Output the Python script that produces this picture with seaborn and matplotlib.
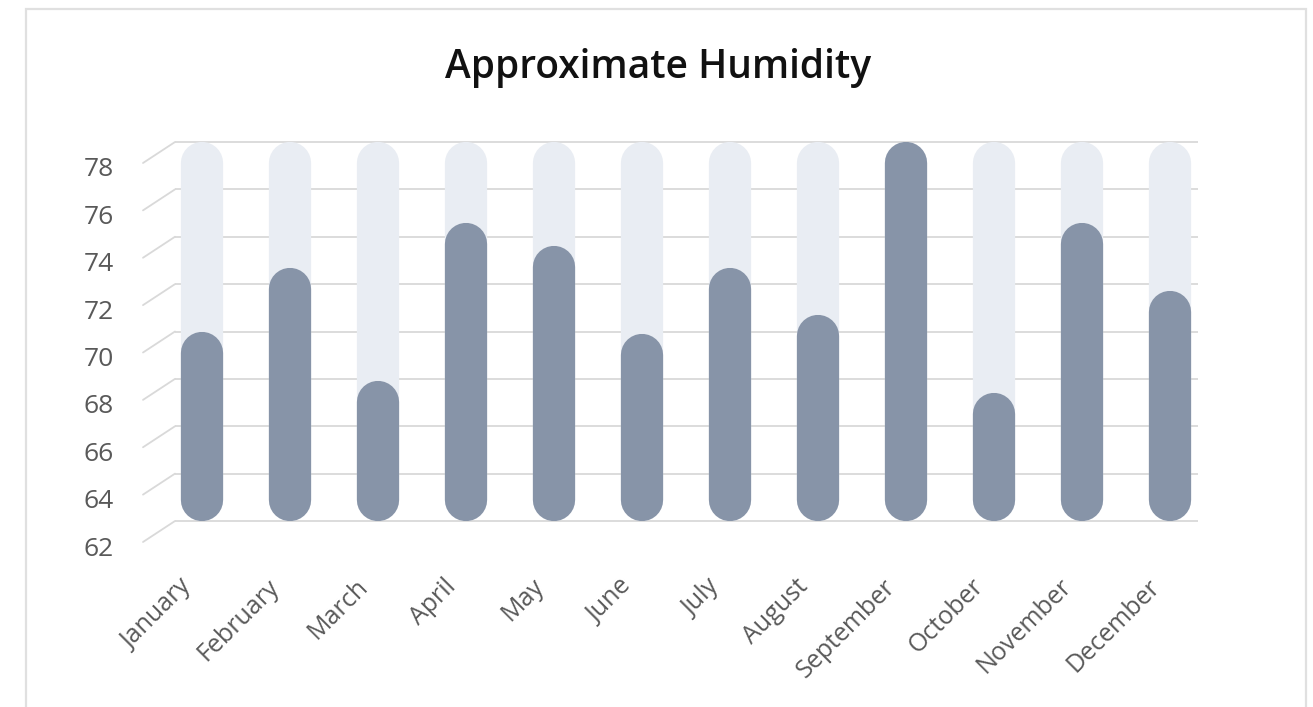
import matplotlib
matplotlib.use("Agg")
import matplotlib.pyplot as plt
import pandas as pd
import seaborn as sns
from matplotlib.patches import Rectangle

# Monthly humidity readings and the full-scale track drawn behind each bar
months = ["January", "February", "March", "April", "May", "June",
          "July", "August", "September", "October", "November", "December"]
humidity = [70.0, 72.7, 67.9, 74.6, 73.6, 69.9, 72.7, 70.7, 78.0, 67.4, 74.6, 71.7]
track_top = [78] * 12
y_ticks = [62, 64, 66, 68, 70, 72, 74, 76, 78]

BAR_COLOR = "#8794A8"
TRACK_COLOR = "#E9EDF3"
GRID_COLOR = "#D9D9D9"
TEXT_GRAY = "#595959"

sns.set_theme(style="white")
plt.rcParams["font.family"] = ["Open Sans", "DejaVu Sans"]

W, H = 1313, 707
fig = plt.figure(figsize=(W / 100, H / 100), dpi=100)
fig.patch.set_facecolor("white")
ax = fig.add_axes([175 / W, 186 / H, 1023 / W, 379 / H])

df = pd.DataFrame({"month": months, "humidity": humidity, "track": track_top})
sns.barplot(data=df, x="month", y="track", color=TRACK_COLOR, width=0.48,
            saturation=1, errorbar=None, ax=ax)
sns.barplot(data=df, x="month", y="humidity", color=BAR_COLOR, width=0.48,
            saturation=1, errorbar=None, ax=ax)

ax.set_xlim(-0.307, 11.318)
ax.set_ylim(y_ticks[0], y_ticks[-1])
ax.set_xlabel("")
ax.set_ylabel("")
ax.tick_params(length=0, labelleft=False, labelbottom=False)
for s in ax.spines.values():
    s.set_visible(False)

# Redraw each bar as a capsule: a thick line with round caps spanning the bar
bb = ax.get_window_extent()
x0, x1 = ax.get_xlim()
y0, y1 = ax.get_ylim()
px_x = bb.width / (x1 - x0)
px_y = bb.height / (y1 - y0)
for i, p in enumerate(list(ax.patches)):
    xc = p.get_x() + p.get_width() / 2
    top = p.get_height()
    fc = p.get_facecolor()
    width_px = p.get_width() * px_x
    r = (width_px / 2) / px_y
    p.remove()
    ax.plot([xc, xc], [y0 + r, top - r], color=fc, lw=width_px * 0.72,
            solid_capstyle="round", zorder=2 + (i >= 12), clip_on=False)

# Back-wall gridlines with the receding wall edge on the left
ax.hlines(y_ticks, x0, x1, color=GRID_COLOR, lw=1.3, zorder=0, clip_on=False)
k = 0.72  # pixels -> points at 100 dpi
blend = ax.get_yaxis_transform()
for t in y_ticks:
    ax.annotate("", xy=(0, t), xycoords=blend,
                xytext=(-32 * k, -21 * k), textcoords="offset points",
                arrowprops=dict(arrowstyle="-", color=GRID_COLOR, lw=1.3,
                                shrinkA=0, shrinkB=0))
    ax.annotate(str(t), xy=(0, t), xycoords=blend,
                xytext=(-61 * k, -28 * k), textcoords="offset points",
                ha="right", va="center", fontsize=19, color=TEXT_GRAY)

xblend = ax.get_xaxis_transform()
for i, m in enumerate(months):
    ax.annotate(m, xy=(i, 0), xycoords=xblend,
                xytext=(-23 * k, -53 * k), textcoords="offset points",
                ha="right", va="top", rotation=45, rotation_mode="anchor",
                fontsize=18, color=TEXT_GRAY)

fig.text(658 / W, 1 - 68 / H, "Approximate Humidity", ha="center", va="center",
         fontsize=28, fontweight="semibold", color="#111111")

# Light frame around the chart area
fig.patches.append(Rectangle((26 / W, -0.05), (1306 - 26) / W, 1.05 - 9 / H,
                             transform=fig.transFigure, fill=False,
                             edgecolor="#E0E0E0", lw=1.6))

fig.savefig("out.png", dpi=100, facecolor="white")
